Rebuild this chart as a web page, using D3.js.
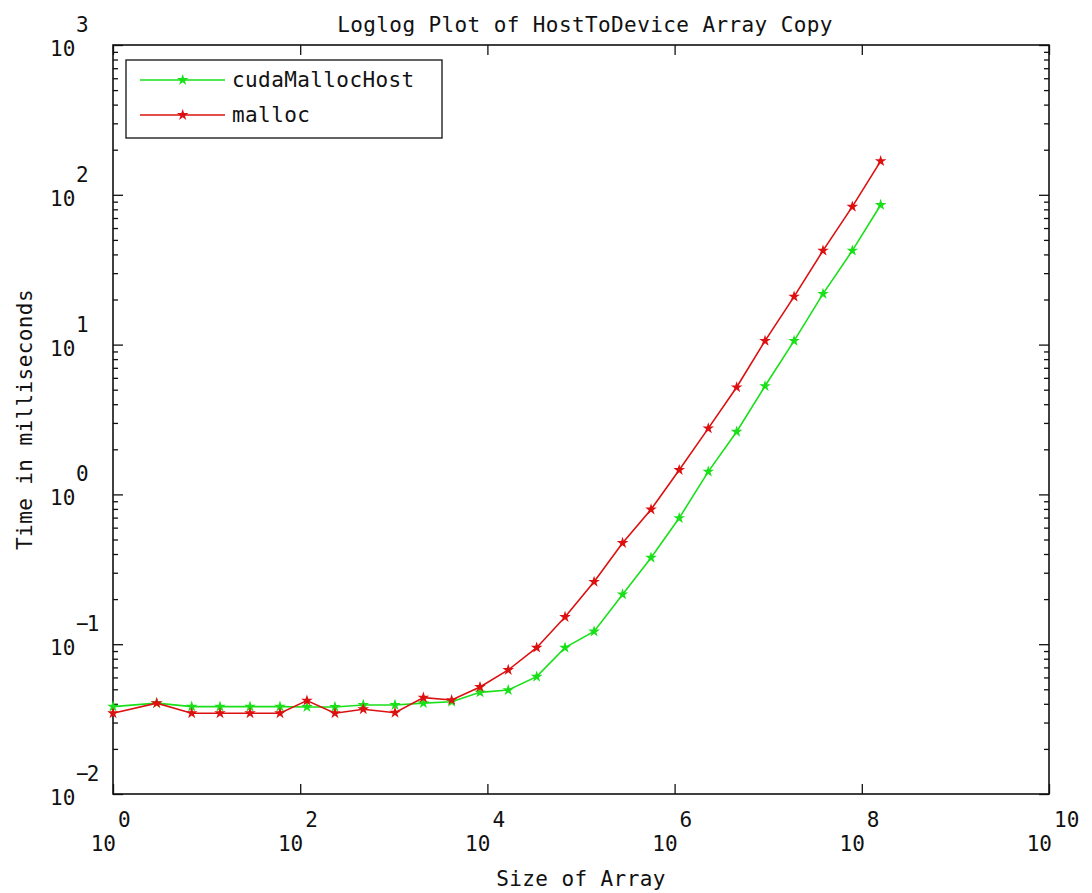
<!DOCTYPE html>
<html><head><meta charset="utf-8">
<script src="https://cdn.jsdelivr.net/npm/d3@7/dist/d3.min.js"></script>
<style>
html,body{margin:0;padding:0;background:#fff;}
svg text{font-family:"DejaVu Sans Mono",monospace;font-size:21px;fill:#111;}
</style></head>
<body>
<svg id="chart" width="1092" height="893"></svg>
<script>
// ---- data ----
const title = "Loglog Plot of HostToDevice Array Copy";
const xLabel = "Size of Array";
const yLabel = "Time in milliseconds";
const seriesNames = ["cudaMallocHost", "malloc"];
const sizes = [1, 2.93, 6.93, 13.9, 29.1, 60.8, 118, 235, 472, 1030, 2070, 4150, 8340,
  16700, 33600, 67500, 138000, 278000, 560000, 1.12e6, 2.29e6, 4.6e6, 9.25e6,
  1.89e7, 3.85e7, 7.92e7, 1.59e8];
const cudaMallocHost = [0.0383, 0.0404, 0.0383, 0.0383, 0.0383, 0.0383, 0.0381, 0.0381, 0.0393,
  0.0393, 0.0404, 0.0413, 0.0477, 0.0494, 0.0607, 0.0948, 0.1216, 0.215, 0.378, 0.695,
  1.42, 2.62, 5.29, 10.6, 21.8, 42.4, 85.5];
const mallocT = [0.0346, 0.0404, 0.0346, 0.0346, 0.0346, 0.0346, 0.0420, 0.0346, 0.0368,
  0.0349, 0.0440, 0.0424, 0.0518, 0.0673, 0.0948, 0.152, 0.261, 0.474, 0.793, 1.455,
  2.76, 5.19, 10.6, 20.9, 42.4, 83.3, 168];
const xTickExps = [0, 2, 4, 6, 8, 10];
const yTickExps = [-2, -1, 0, 1, 2, 3];

// ---- layout ----
const L = 113, R = 1049, T = 45, B = 794;
const svg = d3.select("#chart");
const x = d3.scaleLog().domain([1, 1e10]).range([L, R]);
const y = d3.scaleLog().domain([1e-2, 1e3]).range([B, T]);

const colors = {cudaMallocHost: "#19e019", malloc: "#dd1010"};

// minor y ticks
const yMinor = [];
for (let e = -2; e < 3; e++) for (let k = 2; k <= 9; k++) yMinor.push(k * Math.pow(10, e));

function styleAxis(g) {
  g.select(".domain").remove();
  g.selectAll(".tick line").attr("stroke", "#111").attr("stroke-width", 1.3);
  g.selectAll(".tick text").remove();
}
svg.append("g").attr("transform", `translate(0,${B})`)
  .call(d3.axisBottom(x).tickValues(xTickExps.map(e => Math.pow(10, e))).tickSizeInner(-10).tickSizeOuter(0)).call(styleAxis);
svg.append("g").attr("transform", `translate(0,${T})`)
  .call(d3.axisTop(x).tickValues(xTickExps.map(e => Math.pow(10, e))).tickSizeInner(-10).tickSizeOuter(0)).call(styleAxis);
svg.append("g").attr("transform", `translate(${L},0)`)
  .call(d3.axisLeft(y).tickValues(yTickExps.map(e => Math.pow(10, e))).tickSizeInner(-10).tickSizeOuter(0)).call(styleAxis);
svg.append("g").attr("transform", `translate(${R},0)`)
  .call(d3.axisRight(y).tickValues(yTickExps.map(e => Math.pow(10, e))).tickSizeInner(-10).tickSizeOuter(0)).call(styleAxis);
svg.append("g").attr("transform", `translate(${L},0)`)
  .call(d3.axisLeft(y).tickValues(yMinor).tickSizeInner(-5).tickSizeOuter(0)).call(styleAxis);
svg.append("g").attr("transform", `translate(${R},0)`)
  .call(d3.axisRight(y).tickValues(yMinor).tickSizeInner(-5).tickSizeOuter(0)).call(styleAxis);

// frame
svg.append("rect").attr("x", L).attr("y", T).attr("width", R - L).attr("height", B - T)
  .attr("fill", "none").attr("stroke", "#111").attr("stroke-width", 1.6);

// x tick labels
xTickExps.forEach(e => {
  const px = x(Math.pow(10, e));
  svg.append("text").attr("x", px + 3).attr("y", 851).attr("text-anchor", "end").text("10");
  svg.append("text").attr("x", px + 5).attr("y", 827).text(String(e));
});
// y tick labels
yTickExps.forEach(e => {
  const py = y(Math.pow(10, e));
  svg.append("text").attr("x", 50).attr("y", py + 11).text("10");
  svg.append("text").attr("x", 76).attr("y", py - 13).text(e < 0 ? "\u2212" + Math.abs(e) : String(e))
    .attr("letter-spacing", e < 0 ? "-2px" : null);
});

// titles
svg.append("text").attr("x", (L + R) / 2 + 4).attr("y", 32).attr("text-anchor", "middle")
  .attr("letter-spacing", "0.4px").text(title);
svg.append("text").attr("x", (L + R) / 2).attr("y", 886).attr("text-anchor", "middle")
  .attr("letter-spacing", "0.4px").text(xLabel);
svg.append("text").attr("transform", `translate(32,${(T + B) / 2}) rotate(-90)`)
  .attr("text-anchor", "middle").attr("letter-spacing", "0.4px").text(yLabel);

// series
const series = [
  {name: seriesNames[0], vals: cudaMallocHost},
  {name: seriesNames[1], vals: mallocT}
];
const line = d3.line().x(d => x(d[0])).y(d => y(d[1]));
const sym = d3.symbol().type(d3.symbolStar).size(42);
series.forEach(s => {
  const pts = sizes.map((v, i) => [v, s.vals[i]]);
  svg.append("path").datum(pts).attr("d", line).attr("fill", "none")
    .attr("stroke", colors[s.name]).attr("stroke-width", 1.6);
  svg.append("g").selectAll("path").data(pts).join("path")
    .attr("transform", d => `translate(${x(d[0])},${y(d[1])})`)
    .attr("d", sym).attr("fill", colors[s.name]);
});

// legend
const lg = svg.append("g");
lg.append("rect").attr("x", 126).attr("y", 60).attr("width", 316).attr("height", 78)
  .attr("fill", "#fff").attr("stroke", "#111").attr("stroke-width", 1.3);
series.forEach((s, i) => {
  const ly = 80 + i * 35;
  lg.append("line").attr("x1", 140).attr("x2", 225).attr("y1", ly).attr("y2", ly)
    .attr("stroke", colors[s.name]).attr("stroke-width", 1.6);
  lg.append("path").attr("transform", `translate(182.7,${ly})`).attr("d", sym).attr("fill", colors[s.name]);
  lg.append("text").attr("x", 232).attr("y", ly + 7).attr("letter-spacing", "0.4px").text(s.name);
});
</script>
</body></html>
